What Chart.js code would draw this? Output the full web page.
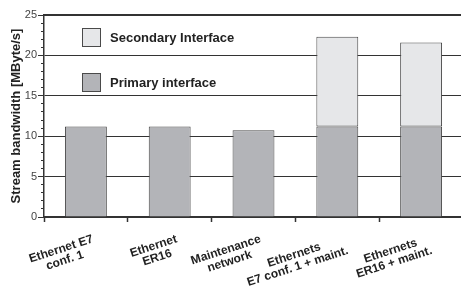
<!DOCTYPE html>
<html>
<head>
<meta charset="utf-8">
<script src="https://cdn.jsdelivr.net/npm/chart.js@4.4.0/dist/chart.umd.min.js"></script>
<style>
  html, body { margin: 0; padding: 0; background: #fff; overflow: hidden; }
  #wrap { width: 463px; height: 291px; }
</style>
</head>
<body>
<div id="wrap"><canvas id="bwChart"></canvas></div>
<script>
// Datos
const categories = [
    ['Ethernet E7', 'conf. 1'],
    ['Ethernet', 'ER16'],
    ['Maintenance', 'network'],
    ['Ethernets', 'E7 conf. 1 + maint.'],
    ['Ethernets', 'ER16 + maint.']
];
const primaryValues = [11.2, 11.2, 10.75, 11.2, 11.2];
const secondaryValues = [null, null, null, 11.1, 10.4];
const seriesLabels = ['Primary interface', 'Secondary Interface'];
const yTicks = [0, 5, 10, 15, 20, 25];

const FONT = '"Liberation Sans", Arial, sans-serif';
const PRIMARY = '#b3b4b8';
const SECONDARY = '#e6e7e9';
const EDGE = '#4a4a4a';
const INK = '#222';
const GRID = '#333';

// Leyenda dentro del area del grafico
const insideLegend = {
    id: 'insideLegend',
    afterDatasetsDraw(chart) {
        const ctx = chart.ctx;
        const items = [
            { label: chart.data.datasets[1].label, color: SECONDARY, y: 28 },
            { label: chart.data.datasets[0].label, color: PRIMARY, y: 73 }
        ];
        ctx.save();
        ctx.font = 'bold 13px ' + FONT;
        ctx.textBaseline = 'middle';
        ctx.textAlign = 'left';
        items.forEach(it => {
            ctx.fillStyle = it.color;
            ctx.fillRect(82, it.y, 19, 19);
            ctx.strokeStyle = EDGE;
            ctx.lineWidth = 1;
            ctx.strokeRect(82.5, it.y + 0.5, 18, 18);
            ctx.fillStyle = INK;
            ctx.fillText(it.label, 110, it.y + 10);
        });
        ctx.restore();
    }
};

// Etiquetas del eje x giradas y centradas entre lineas
const rotatedLabels = {
    id: 'rotatedLabels',
    afterDraw(chart) {
        const ctx = chart.ctx;
        const xs = chart.scales.x;
        const ang = -18 * Math.PI / 180;
        ctx.save();
        ctx.font = 'bold 12px ' + FONT;
        ctx.fillStyle = INK;
        ctx.textAlign = 'center';
        ctx.textBaseline = 'alphabetic';
        categories.forEach((lines, i) => {
            const x = xs.getPixelForValue(i);
            const w = Math.max(...lines.map(l => ctx.measureText(l).width));
            ctx.save();
            ctx.setTransform(Math.cos(ang), Math.sin(ang), -Math.sin(ang), Math.cos(ang), x + 8, xs.top + 25);
            lines.forEach((l, j) => ctx.fillText(l, -w / 2, j * 12));
            ctx.restore();
        });
        ctx.restore();
    }
};

new Chart(document.getElementById('bwChart'), {
    type: 'bar',
    data: {
        labels: categories.map(c => c.join(' ')),
        datasets: [{
            label: seriesLabels[0],
            data: primaryValues,
            backgroundColor: PRIMARY,
            borderColor: EDGE,
            borderWidth: 1,
            borderSkipped: 'bottom',
            barPercentage: 0.5,
            categoryPercentage: 1
        }, {
            label: seriesLabels[1],
            data: secondaryValues,
            backgroundColor: SECONDARY,
            borderColor: EDGE,
            borderWidth: 1,
            borderSkipped: false,
            barPercentage: 0.5,
            categoryPercentage: 1
        }]
    },
    options: {
        responsive: true,
        maintainAspectRatio: false,
        animation: false,
        layout: { padding: { top: 15, right: 0, left: 0, bottom: 0 } },
        plugins: {
            legend: { display: false },
            tooltip: { enabled: false }
        },
        scales: {
            x: {
                stacked: true,
                afterFit: s => { s.height = 74; },
                border: { color: GRID, width: 2 },
                grid: {
                    offset: true,
                    drawOnChartArea: false,
                    drawTicks: true,
                    tickLength: 5,
                    tickColor: GRID,
                    tickWidth: 1.5
                },
                ticks: { display: false }
            },
            // linea superior gruesa (borde del area)
            xTop: {
                position: 'top',
                type: 'category',
                afterFit: s => { s.height = 0; },
                border: { color: GRID, width: 2 },
                grid: { display: false },
                ticks: { display: false }
            },
            y: {
                stacked: true,
                position: 'left',
                weight: 1,
                min: 0,
                max: 25,
                afterFit: s => { s.width = 44; },
                afterBuildTicks: s => { s.ticks = yTicks.map(v => ({ value: v })); },
                border: { color: GRID, width: 1.5 },
                grid: {
                    display: true,
                    drawOnChartArea: true,
                    color: GRID,
                    lineWidth: 1,
                    tickLength: 6,
                    tickColor: GRID,
                    tickWidth: 1
                },
                ticks: {
                    padding: 1,
                    color: '#444',
                    font: { family: FONT, size: 11 }
                },
                title: {
                    display: true,
                    text: 'Stream bandwidth [MByte/s]',
                    color: INK,
                    font: { family: FONT, size: 13, weight: 'bold' },
                    padding: { top: 9, bottom: 0 }
                }
            },
            yMinor: {
                position: 'left',
                weight: 0,
                min: 0,
                max: 25,
                afterFit: s => { s.width = 0; },
                border: { display: false },
                grid: {
                    drawOnChartArea: false,
                    tickLength: 3,
                    tickColor: GRID,
                    tickWidth: 1
                },
                ticks: { display: false, stepSize: 1, autoSkip: false }
            }
        }
    },
    plugins: [insideLegend, rotatedLabels]
});
</script>
</body>
</html>
